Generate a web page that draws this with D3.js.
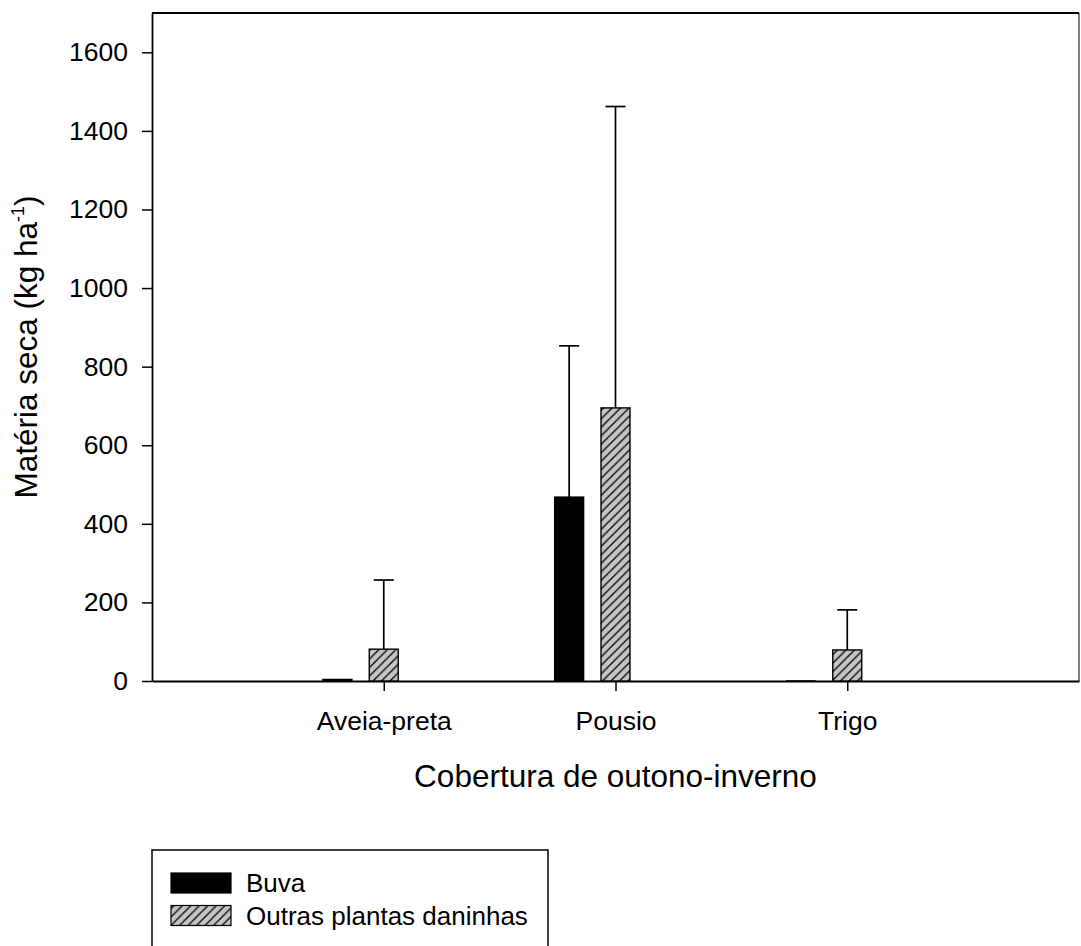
<!DOCTYPE html>
<html>
<head>
<meta charset="utf-8">
<script src="https://cdn.jsdelivr.net/npm/d3@7"></script>
<style>
  body { margin: 0; background: #fff; }
  text { font-family: "Liberation Sans", Arial, sans-serif; fill: #000; }
</style>
</head>
<body>
<div id="chart"></div>
<script>
var categories = ["Aveia-preta", "Pousio", "Trigo"];
var seriesNames = ["Buva", "Outras plantas daninhas"];
var buva = [4, 468, 1];
var buvaErr = [0, 385, 0];
var outras = [81, 695, 79];
var outrasErr = [176, 767, 102];
var yTicks = [0, 200, 400, 600, 800, 1000, 1200, 1400, 1600];

var width = 1081, height = 946;
var pLeft = 152, pRight = 1079, pTop = 13, pBottom = 681;

var svg = d3.select("#chart").append("svg")
    .attr("width", width).attr("height", height);

// hatch for the second series
var defs = svg.append("defs");
var pat = defs.append("pattern").attr("id", "hatch")
    .attr("patternUnits", "userSpaceOnUse").attr("width", 8.5).attr("height", 8.5);
pat.append("rect").attr("width", 8.5).attr("height", 8.5).attr("fill", "#c4c4c4");
pat.append("path").attr("d", "M0,8.5 L8.5,0 M-2,2 L2,-2 M6.5,10.5 L10.5,6.5")
    .attr("stroke", "#000").attr("stroke-width", 1.3);

// categories sit at 1,2,3 on a 0..4 axis
var x = d3.scaleLinear().domain([0, 4]).range([pLeft, pRight]);
var y = d3.scaleLinear().domain([0, 1700]).range([pBottom, pTop]);

var barW = 0.125; // in x units
var series = [
    { name: seriesNames[0], vals: buva, err: buvaErr, off: -0.2, fill: "#000" },
    { name: seriesNames[1], vals: outras, err: outrasErr, off: 0, fill: "url(#hatch)" }
];

// axes
svg.append("g").attr("transform", "translate(" + pLeft + ",0)")
    .call(d3.axisLeft(y).tickValues(yTicks).tickFormat(d3.format("d"))
        .tickSize(10).tickSizeOuter(0).tickPadding(14))
    .call(function (g) {
        g.select(".domain").attr("stroke-width", 1.8);
        g.selectAll(".tick line").attr("stroke-width", 1.5);
        g.selectAll("text").attr("font-size", 26.5).attr("font-family", "Liberation Sans, Arial, sans-serif");
    });

svg.append("g").attr("transform", "translate(0," + pBottom + ")")
    .call(d3.axisBottom(x).tickValues([1, 2, 3]).tickSize(10).tickSizeOuter(0).tickPadding(20)
        .tickFormat(function (d) { return categories[d - 1]; }))
    .call(function (g) {
        g.select(".domain").attr("stroke-width", 2);
        g.selectAll(".tick line").attr("stroke-width", 1.5);
        g.selectAll("text").attr("font-size", 26.5).attr("font-family", "Liberation Sans, Arial, sans-serif");
    });

// top and right frame
svg.append("line").attr("x1", pLeft).attr("x2", pRight).attr("y1", pTop).attr("y2", pTop)
    .attr("stroke", "#000").attr("stroke-width", 2);
svg.append("line").attr("x1", pRight).attr("x2", pRight).attr("y1", pTop).attr("y2", pBottom)
    .attr("stroke", "#000").attr("stroke-width", 1);

// bars + error bars
series.forEach(function (s) {
    var g = svg.append("g");
    g.selectAll("rect").data(s.vals).enter().append("rect")
        .attr("x", function (d, i) { return x(i + 1 + s.off - barW / 2); })
        .attr("width", function () { return x(barW) - x(0); })
        .attr("y", function (d) { return y(d); })
        .attr("height", function (d) { return y(0) - y(d); })
        .attr("fill", s.fill)
        .attr("stroke", "#000").attr("stroke-width", function (d) { return d > 2 ? 1.4 : 0.4; });
    var eb = s.vals.map(function (d, i) { return { v: d, e: s.err[i], i: i }; })
        .filter(function (d) { return d.e > 0; });
    g.selectAll(".err").data(eb).enter().append("line").attr("class", "err")
        .attr("x1", function (d) { return x(d.i + 1 + s.off); })
        .attr("x2", function (d) { return x(d.i + 1 + s.off); })
        .attr("y1", function (d) { return y(d.v); })
        .attr("y2", function (d) { return y(d.v + d.e); })
        .attr("stroke", "#000").attr("stroke-width", 1.7);
    g.selectAll(".cap").data(eb).enter().append("line").attr("class", "cap")
        .attr("x1", function (d) { return x(d.i + 1 + s.off) - 10; })
        .attr("x2", function (d) { return x(d.i + 1 + s.off) + 10; })
        .attr("y1", function (d) { return y(d.v + d.e); })
        .attr("y2", function (d) { return y(d.v + d.e); })
        .attr("stroke", "#000").attr("stroke-width", 1.7);
});

// axis titles
svg.append("text").attr("x", (pLeft + pRight) / 2).attr("y", 787)
    .attr("text-anchor", "middle").attr("font-size", 31.5)
    .text("Cobertura de outono-inverno");

var yl = svg.append("text").attr("transform", "translate(37," + ((pTop + pBottom) / 2) + ") rotate(-90)")
    .attr("text-anchor", "middle").attr("font-size", 31.5);
yl.append("tspan").text("Matéria seca (kg ha");
yl.append("tspan").attr("font-size", 18).attr("dy", -13).text("-1");
yl.append("tspan").attr("dy", 13).text(")");

// legend
var lg = svg.append("g");
lg.append("rect").attr("x", 152).attr("y", 850).attr("width", 396).attr("height", 140)
    .attr("fill", "#fff").attr("stroke", "#000").attr("stroke-width", 1.5);
series.forEach(function (s, i) {
    lg.append("rect").attr("x", 171).attr("y", 873 + i * 32.5).attr("width", 60).attr("height", 20)
        .attr("fill", s.fill).attr("stroke", "#000").attr("stroke-width", 1.2);
    lg.append("text").attr("x", 246).attr("y", 892 + i * 33).attr("font-size", 26).text(s.name);
});
</script>
</body>
</html>
